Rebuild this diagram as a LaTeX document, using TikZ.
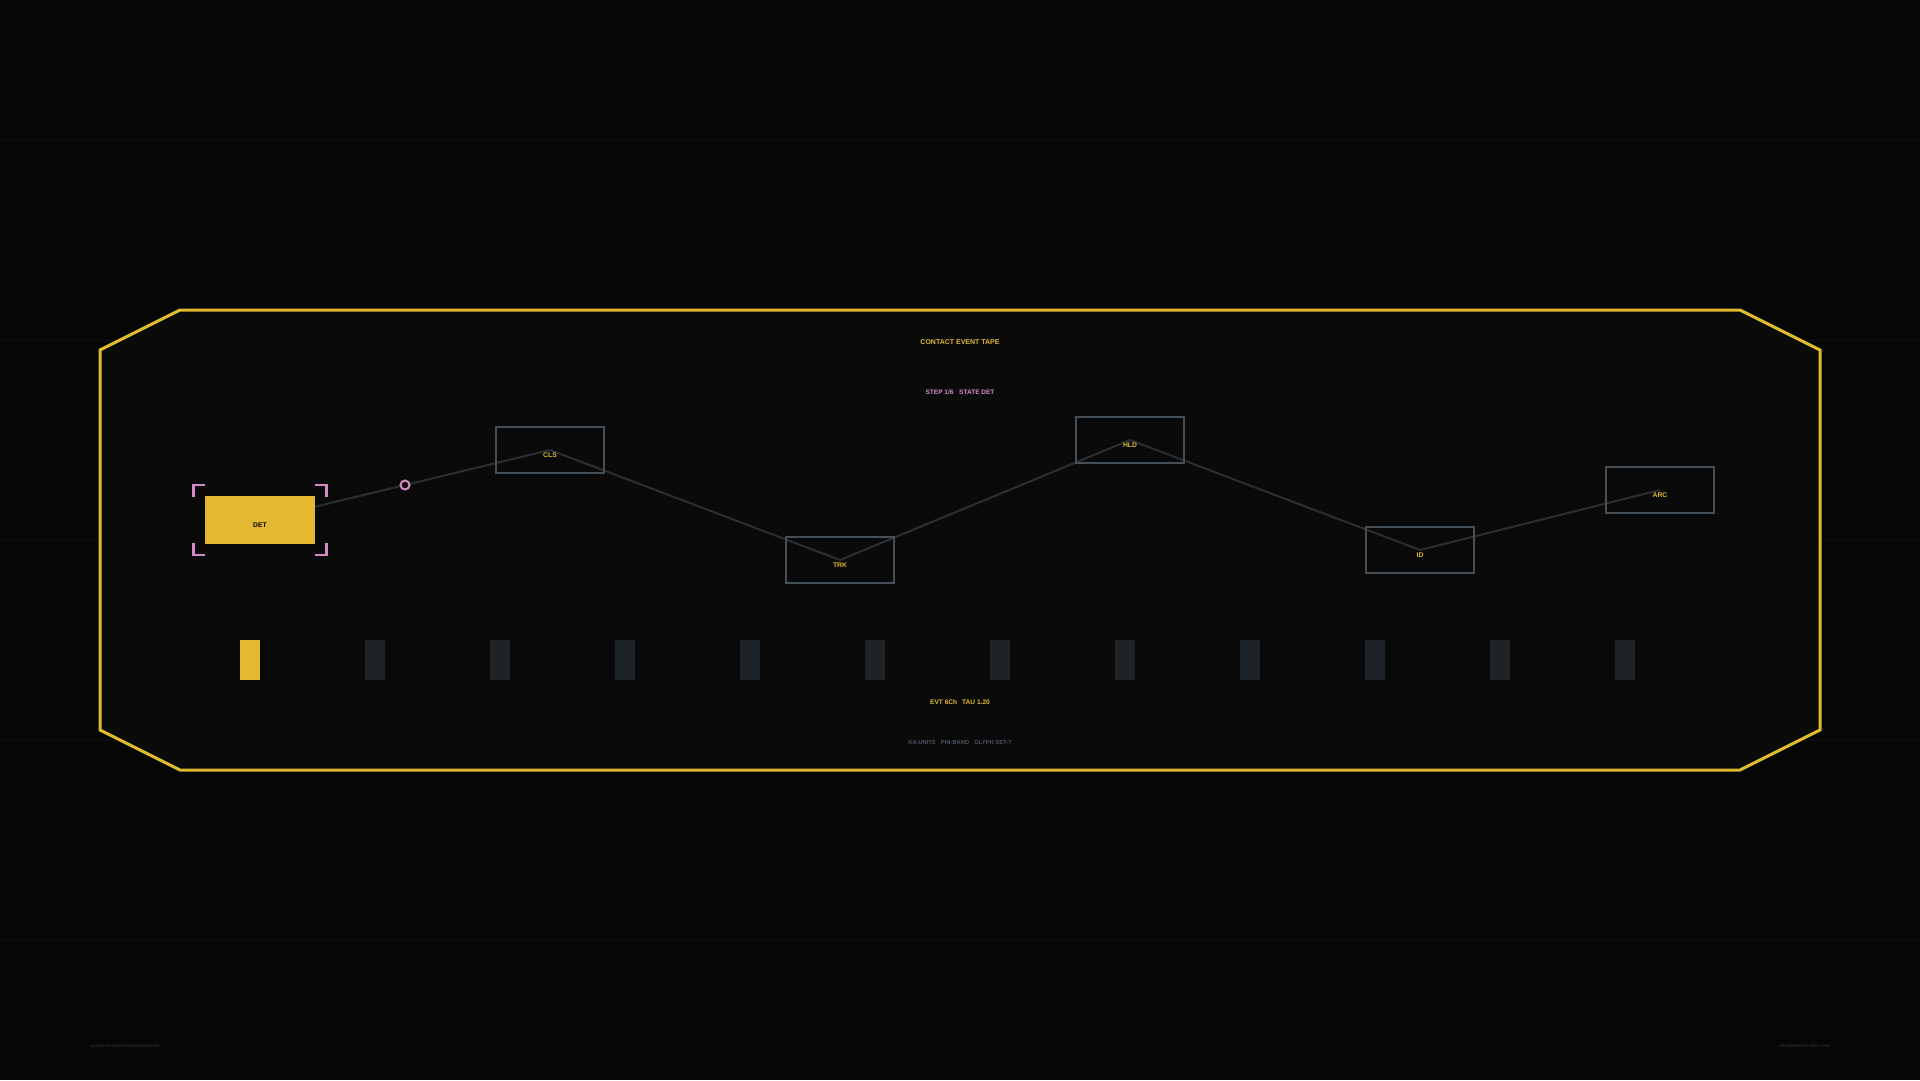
\documentclass[tikz,border=0pt]{standalone}
\usepackage{fontspec}
\setmainfont{Liberation Sans}
\usetikzlibrary{calc}

\definecolor{bg}{HTML}{050706}
\definecolor{panel}{HTML}{0A0A0A}
\definecolor{grid}{HTML}{0D110F}
\definecolor{ylw}{HTML}{E2B930}
\definecolor{pnk}{HTML}{D88CC6}
\definecolor{edge}{HTML}{464E56}
\definecolor{wirec}{HTML}{2B2F31}
\definecolor{cellc}{HTML}{1D2326}
\definecolor{muted}{HTML}{4B5560}
\definecolor{foot}{HTML}{2A2F2D}

\pgfdeclarelayer{back}
\pgfdeclarelayer{wires}
\pgfsetlayers{back,wires,main}

\begin{document}
\begin{tikzpicture}[x=1pt, y=-1pt,
  box/.style = {draw=edge, line width=2.5pt, minimum width=108pt, minimum height=46pt, inner sep=0pt},
  cur/.style = {box, draw=ylw, fill=ylw},
  tag/.style = {text=ylw, inner sep=0pt, font=\fontsize{6.8}{8}\selectfont\bfseries},
  wire/.style = {draw=wirec, line width=2pt},
  cell/.style = {fill=cellc, minimum width=20.5pt, minimum height=40.5pt, inner sep=0pt},
  txt/.style = {inner sep=0pt, font=\fontsize{#1}{#1}\selectfont\bfseries},
  txt/.default = 6.6,
  brk/.style = {draw=pnk, line width=2.5pt},
  dot/.style = {circle, draw=pnk, fill=panel, line width=2pt, minimum size=9pt, inner sep=0pt}]
  \useasboundingbox (0,0) rectangle (1920,1080);

  % backdrop and tape frame
  \begin{pgfonlayer}{back}
    \fill[bg] (0,0) rectangle (1920,1080);
    \foreach \y in {140,340,540,740,940}
      \draw[grid, line width=1pt] (0,\y) -- (1920,\y);
    \draw[ylw, fill=panel, line width=3pt] (180,310) -- (1740,310) -- (1820,350) -- (1820,730)
      -- (1740,770) -- (180,770) -- (100,730) -- (100,350) -- cycle;
  \end{pgfonlayer}

  \node[txt=7, text=ylw] (title) at (960,342) {CONTACT EVENT TAPE};
  \node[txt=6.5, text=pnk] (step) at (960,392) {STEP 1/6\hspace{4pt} STATE DET};

  % event states
  \node[cur] (det) at (260,520) {};
  \node[box] (cls) at (550,450) {};
  \node[box] (trk) at (840,560) {};
  \node[box] (hld) at (1130,440) {};
  \node[box] (id) at (1420,550) {};
  \node[box] (arc) at (1660,490) {};

  \node[tag, text=black] (det-t) at ([yshift=-5pt]det.center) {DET};
  \node[tag] (cls-t) at ([yshift=-5pt]cls.center) {CLS};
  \node[tag] (trk-t) at ([yshift=-5pt]trk.center) {TRK};
  \node[tag] (hld-t) at ([yshift=-5pt]hld.center) {HLD};
  \node[tag] (id-t) at ([yshift=-5pt]id.center) {ID};
  \node[tag] (arc-t) at ([yshift=-5pt]arc.center) {ARC};

  \begin{pgfonlayer}{wires}
    \draw[wire] (det.center) -- (cls.center);
    \draw[wire] (cls.center) -- (trk.center);
    \draw[wire] (trk.center) -- (hld.center);
    \draw[wire] (hld.center) -- (id.center);
    \draw[wire] (id.center) -- (arc.center);
  \end{pgfonlayer}

  \node[dot] (mark) at ($(det)!0.5!(cls)$) {};

  % selection brackets
  \node[minimum width=133pt, minimum height=70pt, inner sep=0pt] (sel) at (det) {};
  \draw[brk] ([yshift=-12pt]sel.north west) -- (sel.north west) -- ([xshift=12pt]sel.north west);
  \draw[brk] ([yshift=-12pt]sel.north east) -- (sel.north east) -- ([xshift=-12pt]sel.north east);
  \draw[brk] ([yshift=12pt]sel.south west) -- (sel.south west) -- ([xshift=12pt]sel.south west);
  \draw[brk] ([yshift=12pt]sel.south east) -- (sel.south east) -- ([xshift=-12pt]sel.south east);

  % tape cells
  \node[cell, fill=ylw] (c0) at (250,660) {};
  \foreach \i in {1,...,11}
    \node[cell] (c\i) at (250+125*\i,660) {};

  \node[txt, text=ylw] (evt) at (960,702) {EVT 6Ch\hspace{3pt} TAU 1.20};
  \node[txt=5.8, text=muted] (units) at (960,742) {KX-UNITS\hspace{3.5pt} PHI-BAND\hspace{3.5pt} GLYPH SET-7};

  \node[txt=3.8, text=foot] (foot-l) at (125,1046) {ACOUSTIC DETECTION DASHBOARD};
  \node[txt=3.8, text=foot] (foot-r) at (1805,1046) {DETERMINISTIC REC LOOP};
\end{tikzpicture}
\end{document}
